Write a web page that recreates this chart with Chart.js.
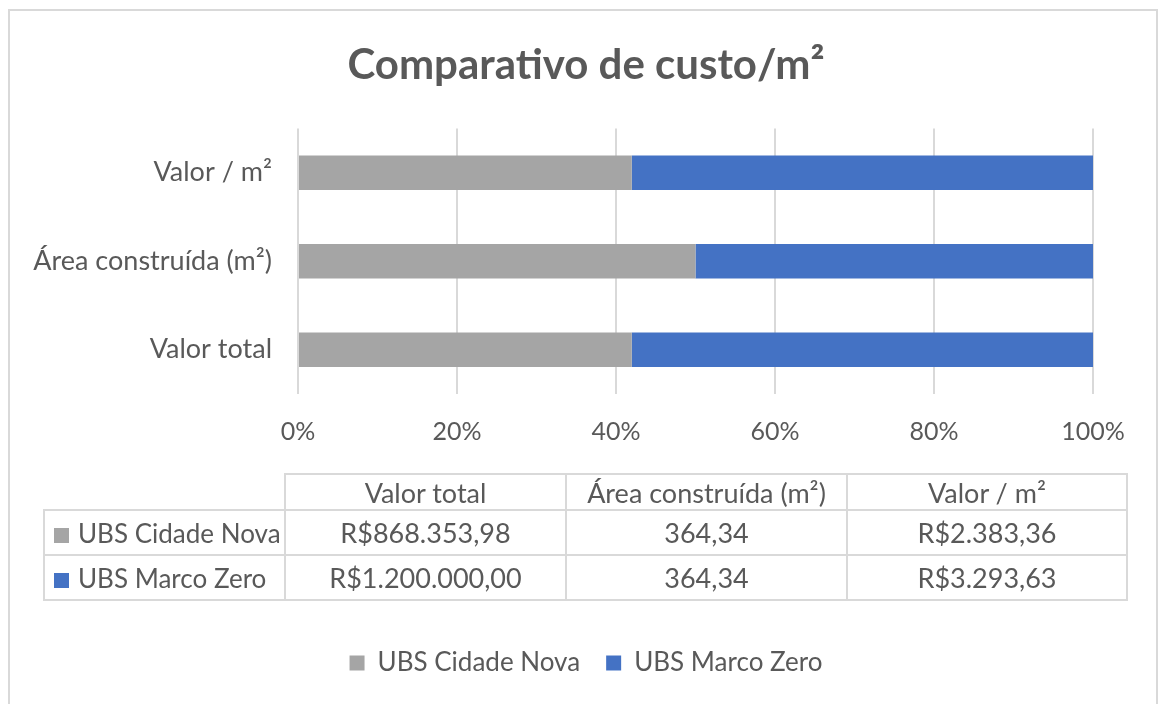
<!DOCTYPE html>
<html>
<head>
<meta charset="utf-8">
<script src="https://cdn.jsdelivr.net/npm/chart.js@4"></script>
<style>
  html, body { margin: 0; padding: 0; background: #fff; }
  #wrap { position: relative; width: 1160px; height: 704px; overflow: hidden; }
  #frame {
    position: absolute; left: 8px; top: 9px; width: 1150px; height: 720px;
    border: 2px solid #d9d9d9; box-sizing: border-box;
  }
  #chart { position: absolute; left: 0; top: 0; }
  #dataTable {
    position: absolute; left: 43px; top: 473px;
    border-collapse: collapse; table-layout: fixed; width: 1076px;
    font-family: Lato, 'Open Sans', sans-serif; font-size: 27px; color: #595959;
  }
  #dataTable td { border: 2px solid #d9d9d9; text-align: center; padding: 0; white-space: nowrap; overflow: hidden; }
  #dataTable td.blank { border-top: none; border-left: none; }
  #dataTable td.series { text-align: left; padding-left: 9px; font-size: 26px; }
  #dataTable .key { display: inline-block; width: 15px; height: 15px; margin-right: 9px; vertical-align: 0px; }
</style>
</head>
<body>
<div id="wrap">
  <div id="frame"></div>
  <canvas id="chart" width="1160" height="704"></canvas>
  <table id="dataTable"></table>
</div>
<script>
// categories in sheet order (Excel draws the first one at the bottom)
const categories = ['Valor total', 'Área construída (m²)', 'Valor / m²'];
const seriesNames = ['UBS Cidade Nova', 'UBS Marco Zero'];
const cidadeNova = [868353.98, 364.34, 2383.36];
const marcoZero = [1200000.00, 364.34, 3293.63];
const isCurrency = [true, false, true];
const xTicks = [0, 20, 40, 60, 80, 100];

const GREY = '#a5a5a5';
const BLUE = '#4472c4';
const TEXT = '#595959';
const GRID = '#d9d9d9';
const FONT = "Lato, 'Open Sans', sans-serif";

// pt-BR number format without relying on locale data
function fmt(v, currency) {
  const [int, dec] = v.toFixed(2).split('.');
  const grouped = int.replace(/\B(?=(\d{3})+(?!\d))/g, '.');
  return (currency ? 'R$' : '') + grouped + ',' + dec;
}

// 100% stacked: each bar is the series' share of the category total
const share = (a, b) => a.map((v, i) => v / (v + b[i]) * 100);

// the left padding only serves to center title/legend like Excel does;
// stretch the y scale back to the edge so long labels aren't clipped
const widenYScale = {
  id: 'widenYScale',
  afterLayout(chart) {
    const y = chart.scales.y;
    y.left = 0;
    y.width = y.right;
  },
};

Chart.defaults.color = TEXT;
Chart.defaults.font.family = FONT;

new Chart(document.getElementById('chart').getContext('2d'), {
  type: 'bar',
  data: {
    labels: categories,
    datasets: [
      { label: seriesNames[0], data: share(cidadeNova, marcoZero), backgroundColor: GREY, borderWidth: 0 },
      { label: seriesNames[1], data: share(marcoZero, cidadeNova), backgroundColor: BLUE, borderWidth: 0 },
    ],
  },
  plugins: [widenYScale],
  options: {
    indexAxis: 'y',
    responsive: false,
    animation: false,
    categoryPercentage: 1,
    barPercentage: 0.39,
    layout: { padding: { left: 79, right: 67, top: 0, bottom: 18 } },
    scales: {
      x: {
        stacked: true, min: 0, max: 100,
        afterBuildTicks: s => { s.ticks = xTicks.map(v => ({ value: v })); },
        afterFit: s => { s.height = 230; },
        ticks: { callback: v => v + '%', font: { size: 25 }, color: TEXT, padding: 23, maxRotation: 0 },
        grid: { color: GRID, lineWidth: 2, drawTicks: false },
        border: { display: false },
      },
      y: {
        stacked: true, reverse: true,
        afterFit: s => { s.width = 219; },
        ticks: { font: { size: 27 }, color: TEXT, padding: 18 },
        grid: { display: false },
        border: { display: false },
      },
    },
    plugins: {
      title: {
        display: true, text: 'Comparativo de custo/m²', color: TEXT,
        font: { size: 42, weight: 'bold' }, padding: { top: 40, bottom: 38 },
      },
      legend: {
        position: 'bottom',
        labels: { boxWidth: 15, boxHeight: 15, font: { size: 26 }, color: TEXT, padding: 26 },
      },
      tooltip: { enabled: false },
    },
  },
});

// data table under the axis, like Excel's "data table" option
const table = document.getElementById('dataTable');
const colW = [240, 279, 279, 278];
let html = '<tr style="height:36px"><td class="blank" style="width:' + colW[0] + 'px"></td>';
categories.forEach((c, i) => { html += '<td style="width:' + colW[i + 1] + 'px">' + c + '</td>'; });
html += '</tr>';
[cidadeNova, marcoZero].forEach((row, r) => {
  html += '<tr style="height:45px"><td class="series"><span class="key" style="background:' +
    (r === 0 ? GREY : BLUE) + '"></span>' + seriesNames[r] + '</td>';
  row.forEach((v, i) => { html += '<td>' + fmt(v, isCurrency[i]) + '</td>'; });
  html += '</tr>';
});
table.innerHTML = html;
</script>
</body>
</html>
